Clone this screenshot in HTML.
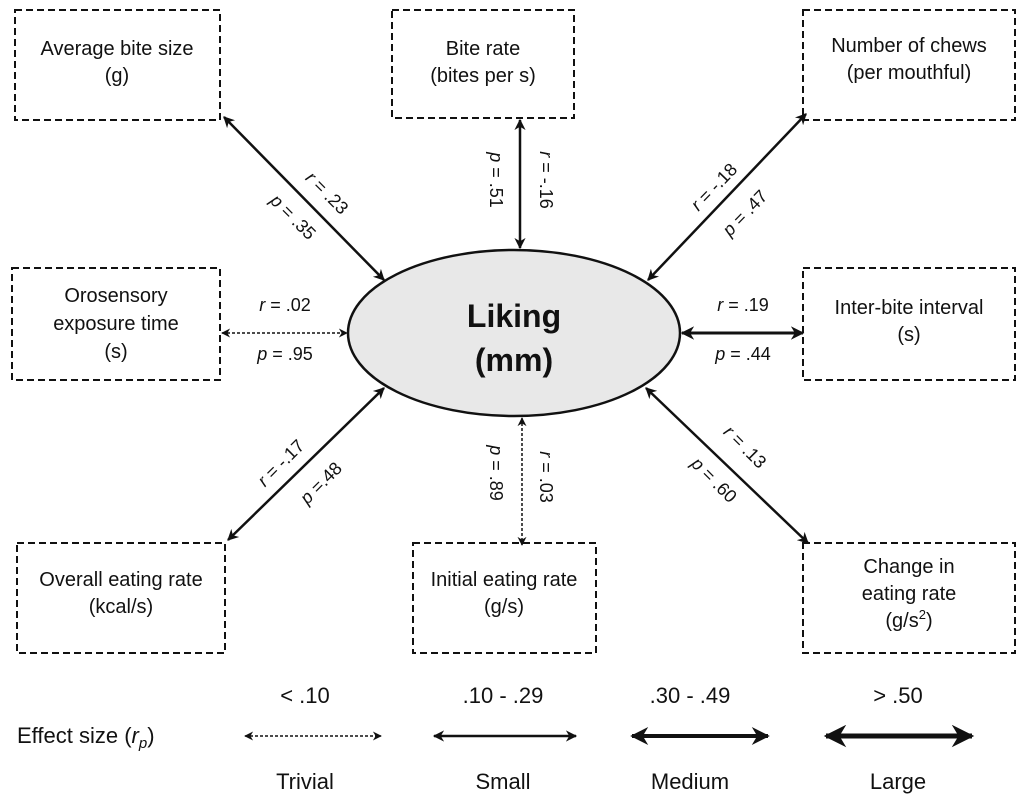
<!DOCTYPE html>
<html><head><meta charset="utf-8"><style>
html,body{margin:0;padding:0;background:#fff}
svg{display:block}
text{font-family:"Liberation Sans",Arial,sans-serif;fill:#111}
</style></head><body>
<svg width="1024" height="804" viewBox="0 0 1024 804" xmlns="http://www.w3.org/2000/svg">
<defs>
<marker id="a" viewBox="0 0 10 10" refX="9" refY="5" markerWidth="5.5" markerHeight="4.5" orient="auto-start-reverse" markerUnits="strokeWidth"><path d="M0,0 L10,5 L0,10 L3,5 z" fill="#111"/></marker>
<marker id="ad" viewBox="0 0 10 10" refX="9" refY="5" markerWidth="7" markerHeight="6" orient="auto-start-reverse" markerUnits="strokeWidth"><path d="M0,0 L10,5 L0,10 L3,5 z" fill="#111"/></marker>
</defs>
<g fill="none" stroke="#111" stroke-width="2" stroke-dasharray="7,4">
<rect x="15" y="10" width="205" height="110"/>
<rect x="392" y="10" width="182" height="108"/>
<rect x="803" y="10" width="212" height="110"/>
<rect x="12" y="268" width="208" height="112"/>
<rect x="803" y="268" width="212" height="112"/>
<rect x="17" y="543" width="208" height="110"/>
<rect x="413" y="543" width="183" height="110"/>
<rect x="803" y="543" width="212" height="110"/>
</g>
<g font-size="20" text-anchor="middle">
<text x="117" y="55">Average bite size</text><text x="117" y="82">(g)</text>
<text x="483" y="55">Bite rate</text><text x="483" y="82">(bites per s)</text>
<text x="909" y="52">Number of chews</text><text x="909" y="79">(per mouthful)</text>
<text x="116" y="302">Orosensory</text><text x="116" y="330">exposure time</text><text x="116" y="358">(s)</text>
<text x="909" y="314">Inter-bite interval</text><text x="909" y="341">(s)</text>
<text x="121" y="586">Overall eating rate</text><text x="121" y="613">(kcal/s)</text>
<text x="504" y="586">Initial eating rate</text><text x="504" y="613">(g/s)</text>
<text x="909" y="573">Change in</text><text x="909" y="600">eating rate</text><text x="909" y="627">(g/s<tspan font-size="13" dy="-8">2</tspan><tspan dy="8">)</tspan></text>
</g>
<ellipse cx="514" cy="333" rx="166" ry="83" fill="#e8e8e8" stroke="#111" stroke-width="2.5"/>
<text x="514" y="327" font-size="32" font-weight="bold" text-anchor="middle">Liking</text>
<text x="514" y="371" font-size="32" font-weight="bold" text-anchor="middle">(mm)</text>
<g stroke="#111" fill="none">
<line x1="224" y1="117" x2="384" y2="280" stroke-width="2.5" marker-start="url(#a)" marker-end="url(#a)"/>
<line x1="520" y1="120" x2="520" y2="248" stroke-width="2.5" marker-start="url(#a)" marker-end="url(#a)"/>
<line x1="806" y1="114" x2="648" y2="280" stroke-width="2.5" marker-start="url(#a)" marker-end="url(#a)"/>
<line x1="222" y1="333" x2="347" y2="333" stroke-width="1.5" stroke-dasharray="3,2" marker-start="url(#ad)" marker-end="url(#ad)"/>
<line x1="682" y1="333" x2="803" y2="333" stroke-width="3" marker-start="url(#a)" marker-end="url(#a)"/>
<line x1="384" y1="388" x2="228" y2="540" stroke-width="2.5" marker-start="url(#a)" marker-end="url(#a)"/>
<line x1="522" y1="418" x2="522" y2="545" stroke-width="1.5" stroke-dasharray="3,2" marker-start="url(#ad)" marker-end="url(#ad)"/>
<line x1="646" y1="388" x2="808" y2="543" stroke-width="2.5" marker-start="url(#a)" marker-end="url(#a)"/>
</g>
<g font-size="18" text-anchor="middle" dominant-baseline="central">
<text transform="translate(327,193) rotate(45)"><tspan font-style="italic">r</tspan> = .23</text>
<text transform="translate(293,217) rotate(45)"><tspan font-style="italic">p</tspan> = .35</text>
<text transform="translate(496,180) rotate(90)"><tspan font-style="italic">p</tspan> = .51</text>
<text transform="translate(546,180) rotate(90)"><tspan font-style="italic">r</tspan> = -.16</text>
<text transform="translate(714,187) rotate(-46)"><tspan font-style="italic">r</tspan> = -.18</text>
<text transform="translate(745,213) rotate(-46)"><tspan font-style="italic">p</tspan> = .47</text>
<text transform="translate(281,463) rotate(-45)"><tspan font-style="italic">r</tspan> = -.17</text>
<text transform="translate(321,483) rotate(-45)"><tspan font-style="italic">p</tspan> =.48</text>
<text transform="translate(496,473) rotate(90)"><tspan font-style="italic">p</tspan> = .89</text>
<text transform="translate(546,477) rotate(90)"><tspan font-style="italic">r</tspan> = .03</text>
<text transform="translate(745,447) rotate(45)"><tspan font-style="italic">r</tspan> = .13</text>
<text transform="translate(714,480) rotate(45)"><tspan font-style="italic">p</tspan> = .60</text>
</g>
<g font-size="18" text-anchor="middle">
<text x="285" y="311"><tspan font-style="italic">r</tspan> = .02</text>
<text x="285" y="360"><tspan font-style="italic">p</tspan> = .95</text>
<text x="743" y="311"><tspan font-style="italic">r</tspan> = .19</text>
<text x="743" y="360"><tspan font-style="italic">p</tspan> = .44</text>
</g>
<g font-size="22" text-anchor="middle">
<text x="305" y="703">&lt; .10</text>
<text x="503" y="703">.10 - .29</text>
<text x="690" y="703">.30 - .49</text>
<text x="898" y="703">&gt; .50</text>
<text x="305" y="789">Trivial</text>
<text x="503" y="789">Small</text>
<text x="690" y="789">Medium</text>
<text x="898" y="789">Large</text>
<text x="17" y="743" text-anchor="start">Effect size (<tspan font-style="italic">r<tspan font-size="15" dy="5">p</tspan></tspan><tspan dy="-5">)</tspan></text>
</g>
<g stroke="#111" fill="none">
<line x1="245" y1="736" x2="381" y2="736" stroke-width="1.5" stroke-dasharray="3,2" marker-start="url(#ad)" marker-end="url(#ad)"/>
<line x1="434" y1="736" x2="576" y2="736" stroke-width="2.5" marker-start="url(#a)" marker-end="url(#a)"/>
<line x1="632" y1="736" x2="768" y2="736" stroke-width="4" marker-start="url(#a)" marker-end="url(#a)"/>
<line x1="826" y1="736" x2="972" y2="736" stroke-width="5" marker-start="url(#a)" marker-end="url(#a)"/>
</g>
</svg>
</body></html>
